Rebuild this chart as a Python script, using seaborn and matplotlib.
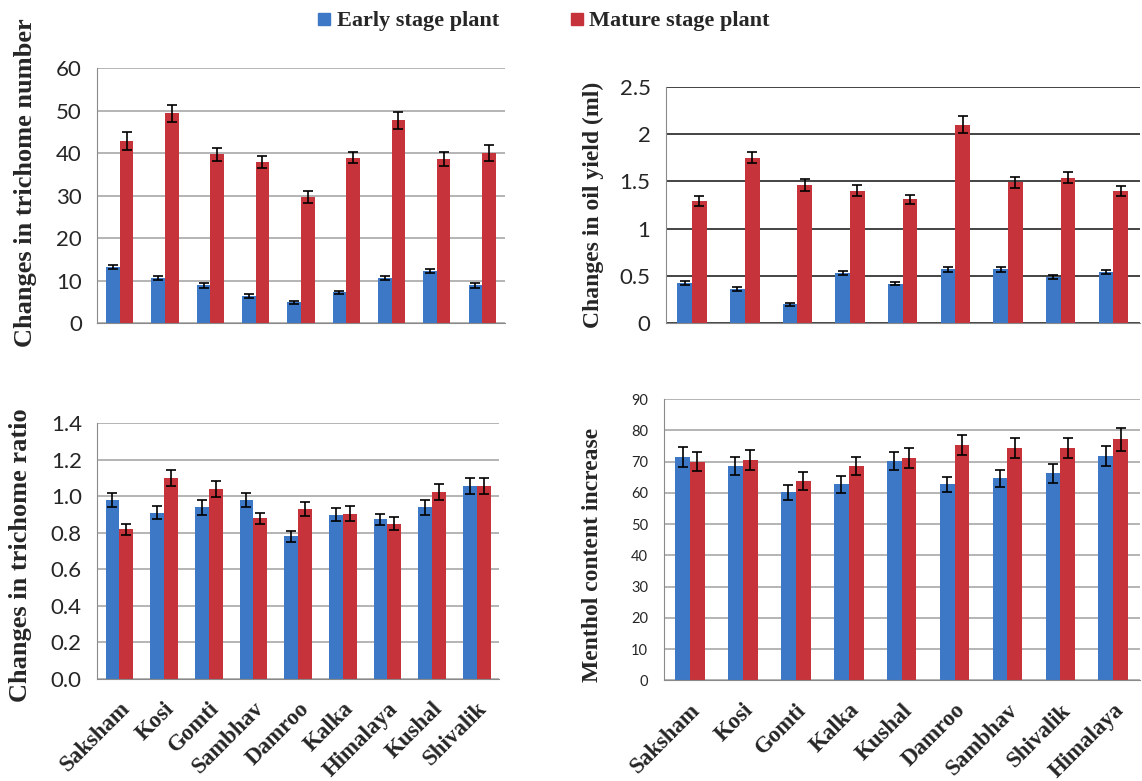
import numpy as np
import pandas as pd
import matplotlib
matplotlib.use("Agg")
import matplotlib.pyplot as plt
from matplotlib.lines import Line2D
import seaborn as sns

# varieties (order on each panel)
var_a = ['Saksham', 'Kosi', 'Gomti', 'Sambhav', 'Damroo', 'Kalka', 'Himalaya', 'Kushal', 'Shivalik']
var_b = ['Saksham', 'Kosi', 'Gomti', 'Kalka', 'Kushal', 'Damroo', 'Sambhav', 'Shivalik', 'Himalaya']
stages = ['Early stage plant', 'Mature stage plant']

# trichome number
tn_early = [13.3, 10.6, 8.9, 6.4, 4.9, 7.3, 10.6, 12.3, 8.9]
tn_early_err = [0.5, 0.5, 0.5, 0.4, 0.4, 0.4, 0.5, 0.5, 0.5]
tn_mature = [42.9, 49.4, 39.7, 37.9, 29.7, 38.9, 47.7, 38.6, 40.1]
tn_mature_err = [2.1, 2.0, 1.6, 1.4, 1.4, 1.3, 2.0, 1.6, 1.9]

# oil yield (ml)
oy_early = [0.43, 0.36, 0.20, 0.53, 0.42, 0.57, 0.57, 0.49, 0.54]
oy_early_err = [0.02, 0.02, 0.02, 0.02, 0.02, 0.025, 0.025, 0.02, 0.02]
oy_mature = [1.29, 1.75, 1.46, 1.40, 1.31, 2.10, 1.49, 1.54, 1.40]
oy_mature_err = [0.05, 0.06, 0.06, 0.06, 0.05, 0.09, 0.06, 0.06, 0.05]

# trichome ratio
tr_early = [0.98, 0.91, 0.94, 0.98, 0.78, 0.90, 0.875, 0.94, 1.055]
tr_early_err = [0.04, 0.035, 0.04, 0.04, 0.03, 0.035, 0.03, 0.04, 0.045]
tr_mature = [0.82, 1.10, 1.04, 0.88, 0.93, 0.905, 0.85, 1.025, 1.055]
tr_mature_err = [0.03, 0.045, 0.045, 0.03, 0.04, 0.04, 0.035, 0.045, 0.045]

# menthol content
mc_early = [71.5, 68.6, 60.1, 62.7, 70.1, 62.7, 64.6, 66.2, 71.9]
mc_early_err = [3.3, 3.0, 2.4, 2.8, 2.9, 2.5, 2.8, 2.9, 3.2]
mc_mature = [70.0, 70.5, 63.7, 68.6, 71.0, 75.3, 74.3, 74.3, 77.1]
mc_mature_err = [3.0, 3.3, 2.9, 2.8, 3.2, 3.2, 3.3, 3.3, 3.6]

blue = '#3D78C6'
red = '#C6333A'
serif = ['Liberation Serif', 'DejaVu Serif']
sans = ['Lato', 'DejaVu Sans']

sns.set_style("white")
plt.rcParams['font.family'] = sans

fig = plt.figure(figsize=(11.42, 7.81), dpi=100)


def panel(rect, names, early, early_err, mature, mature_err, ylim, yticks, ylabel,
          fmt, grid_col, tick_fs, lab_fs, lab_xy, width, xlabels):
    ax = fig.add_axes(rect)
    df = pd.DataFrame({
        'variety': names * 2,
        'stage': [stages[0]] * len(names) + [stages[1]] * len(names),
        'value': early + mature,
    })
    sns.barplot(data=df, x='variety', y='value', hue='stage', order=names,
                hue_order=stages, palette=[blue, red], width=width,
                errorbar=None, legend=False, ax=ax, saturation=1,
                edgecolor='none')
    errs = early_err + mature_err
    for p, e in zip(ax.patches, errs):
        ax.errorbar(p.get_x() + p.get_width() / 2, p.get_height(), yerr=e,
                    fmt='none', ecolor='black', elinewidth=1.2, capsize=3.5,
                    capthick=1.2, zorder=5)
    ax.set_ylim(*ylim)
    ax.set_xlim(-0.5, len(names) - 0.5)
    ax.set_yticks(yticks)
    ax.set_yticklabels([fmt.format(v) for v in yticks], fontsize=tick_fs)
    ax.yaxis.grid(True, color=grid_col, lw=1.1)
    ax.set_axisbelow(True)
    for s in ['top', 'right']:
        ax.spines[s].set_visible(False)
    ax.spines['left'].set_color('#8a8a8a')
    ax.spines['bottom'].set_color('#8a8a8a')
    ax.tick_params(axis='y', length=5, color='#8a8a8a', pad=6)
    ax.set_xlabel('')
    ax.set_ylabel(ylabel, family=serif, fontweight='bold', fontsize=lab_fs)
    ax.yaxis.set_label_coords(*lab_xy)
    if xlabels:
        ax.set_xticks(range(len(names)))
        ax.set_xticklabels(names, rotation=45, ha='right', rotation_mode='anchor',
                           family=serif, fontweight='bold', fontsize=16.5)
        ax.tick_params(axis='x', which='major', length=0, pad=14)
        ax.set_xticks(np.arange(-0.5, len(names), 1), minor=True)
        ax.tick_params(axis='x', which='minor', length=6, color='#8a8a8a')
    else:
        ax.set_xticks([])
    return ax


panel([0.085, 0.586, 0.357, 0.327], var_a, tn_early, tn_early_err, tn_mature, tn_mature_err,
      (0, 60), [0, 10, 20, 30, 40, 50, 60], 'Changes in trichome number', '{:g}',
      '#a0a0a0', 16, 19, (-0.147, 0.55), 0.6, False)

panel([0.583, 0.586, 0.415, 0.303], var_b, oy_early, oy_early_err, oy_mature, oy_mature_err,
      (0, 2.5), [0, 0.5, 1, 1.5, 2, 2.5], 'Changes in oil yield (ml)', '{:g}',
      '#111111', 16, 17, (-0.130, 0.5), 0.56, False)

panel([0.085, 0.131, 0.352, 0.327], var_a, tr_early, tr_early_err, tr_mature, tr_mature_err,
      (0, 1.4), [0, 0.2, 0.4, 0.6, 0.8, 1.0, 1.2, 1.4], 'Changes in trichome ratio', '{:.1f}',
      '#a0a0a0', 16, 19, (-0.162, 0.484), 0.62, True)

panel([0.581, 0.129, 0.417, 0.36], var_b, mc_early, mc_early_err, mc_mature, mc_mature_err,
      (0, 90), list(range(0, 91, 10)), 'Menthol content increase', '{:g}',
      '#a0a0a0', 10.5, 17, (-0.126, 0.445), 0.56, True)

handles = [Line2D([], [], marker='s', ls='none', color=blue, markersize=9),
           Line2D([], [], marker='s', ls='none', color=red, markersize=9)]
fig.legend(handles, stages, loc='center', bbox_to_anchor=(0.474, 0.973), ncol=2,
           frameon=False, handletextpad=0.05, handlelength=1.0, columnspacing=3.0,
           prop={'family': serif, 'weight': 'bold', 'size': 16})

fig.savefig('out.png', dpi=100)
